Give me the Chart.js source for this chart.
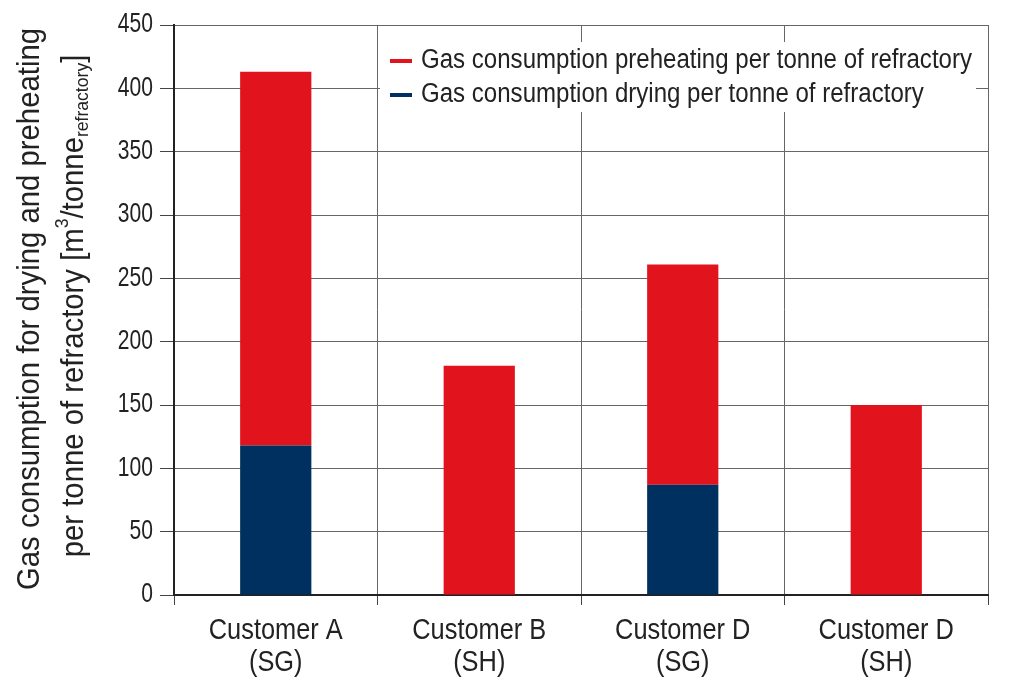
<!DOCTYPE html>
<html>
<head>
<meta charset="utf-8">
<script src="https://cdn.jsdelivr.net/npm/chart.js@4/dist/chart.umd.min.js"></script>
<style>
  html, body { margin: 0; padding: 0; background: #fff; }
  #wrap { width: 1024px; height: 688px; }
</style>
</head>
<body>
<div id="wrap"><canvas id="chart" width="1024" height="688"></canvas></div>
<script>
// categories and values
var categories = [['Customer A', '(SG)'], ['Customer B', '(SH)'], ['Customer D', '(SG)'], ['Customer D', '(SH)']];
var dryingValues = [118, 0, 87, 0];
var preheatingValues = [295, 181, 174, 150];
var yTicks = [0, 50, 100, 150, 200, 250, 300, 350, 400, 450];

var preheatLabel = 'Gas consumption preheating per tonne of refractory';
var dryingLabel = 'Gas consumption drying per tonne of refractory';
var yTitle1 = 'Gas consumption for drying and preheating';

var RED = '#e1131c';
var NAVY = '#00305f';
var FONT = "'Liberation Sans', Arial, sans-serif";
var TEXT = '#222';

// the original uses a narrow face; squeeze a normal one sideways
function narrowText(ctx, text, x, y, size, sx, align) {
    ctx.save();
    ctx.translate(x, y);
    ctx.scale(sx, 1);
    ctx.font = size + 'px ' + FONT;
    ctx.textAlign = align;
    ctx.textBaseline = 'middle';
    ctx.fillText(text, 0, 0);
    ctx.restore();
}

function squeezeFor(ctx, text, size, width) {
    ctx.font = size + 'px ' + FONT;
    return width / ctx.measureText(text).width;
}

var extras = {
    id: 'extras',
    afterDraw: function (chart) {
        var ctx = chart.ctx;
        var yScale = chart.scales.y;
        var xScale = chart.scales.x;
        ctx.save();
        ctx.fillStyle = TEXT;

        // y tick labels
        yScale.ticks.forEach(function (t) {
            narrowText(ctx, String(t.value), 153, yScale.getPixelForValue(t.value), 27, 0.78, 'right');
        });

        // x tick labels, two lines each
        var xsx = squeezeFor(ctx, 'Customer A', 30, 134);
        categories.forEach(function (lines, i) {
            var px = xScale.getPixelForValue(i);
            narrowText(ctx, lines[0], px, 631, 30, xsx, 'center');
            narrowText(ctx, lines[1], px, 663, 30, xsx, 'center');
        });

        // legend box, covers the grid
        ctx.fillStyle = '#fff';
        ctx.fillRect(380, 42, 596, 70);
        ctx.lineWidth = 4;
        ctx.strokeStyle = RED;
        ctx.beginPath(); ctx.moveTo(390, 61); ctx.lineTo(412, 61); ctx.stroke();
        ctx.strokeStyle = NAVY;
        ctx.beginPath(); ctx.moveTo(390, 95); ctx.lineTo(412, 95); ctx.stroke();
        ctx.fillStyle = TEXT;
        var lsx = squeezeFor(ctx, preheatLabel, 27, 551);
        narrowText(ctx, preheatLabel, 421, 61, 27, lsx, 'left');
        narrowText(ctx, dryingLabel, 421, 95, 27, lsx, 'left');

        // y axis title, two lines with super/subscript
        var tsize = 31;
        var tsx = squeezeFor(ctx, yTitle1, tsize, 562);
        ctx.save();
        ctx.translate(30, 309);
        ctx.rotate(-Math.PI / 2);
        narrowText(ctx, yTitle1, 0, 0, tsize, tsx, 'center');
        ctx.restore();

        var segs = [
            { t: 'per tonne of refractory [m', s: 1, dy: 0 },
            { t: '3', s: 0.6, dy: -0.36 },
            { t: '/tonne', s: 1, dy: 0 },
            { t: 'refractory', s: 0.6, dy: 0.3 },
            { t: ']', s: 1, dy: 0 }
        ];
        var total = 0;
        segs.forEach(function (g) {
            ctx.font = (tsize * g.s) + 'px ' + FONT;
            g.w = ctx.measureText(g.t).width * tsx;
            total += g.w;
        });
        ctx.save();
        ctx.translate(74, 306);
        ctx.rotate(-Math.PI / 2);
        var x = -total / 2;
        segs.forEach(function (g) {
            narrowText(ctx, g.t, x, g.dy * tsize, tsize * g.s, tsx, 'left');
            x += g.w;
        });
        ctx.restore();

        ctx.restore();
    }
};

new Chart(document.getElementById('chart'), {
    type: 'bar',
    data: {
        labels: categories,
        datasets: [
            {
                label: dryingLabel,
                data: dryingValues,
                backgroundColor: NAVY,
                borderWidth: 0
            },
            {
                label: preheatLabel,
                data: preheatingValues,
                backgroundColor: RED,
                borderWidth: 0
            }
        ]
    },
    options: {
        responsive: false,
        animation: false,
        devicePixelRatio: 1,
        layout: { padding: { top: 25, right: 36, left: 0, bottom: 0 } },
        datasets: { bar: { categoryPercentage: 1, barPercentage: 0.35 } },
        plugins: {
            legend: { display: false },
            tooltip: { enabled: false }
        },
        scales: {
            x: {
                stacked: true,
                afterFit: function (scale) { scale.height = 93; },
                grid: {
                    offset: true,
                    color: '#666',
                    lineWidth: 1,
                    tickLength: 10,
                    tickColor: '#444'
                },
                border: { color: '#222', width: 2 },
                ticks: { display: false }
            },
            y: {
                stacked: true,
                min: 0,
                max: 450,
                afterFit: function (scale) { scale.width = 174; },
                afterBuildTicks: function (scale) {
                    scale.ticks = yTicks.map(function (v) { return { value: v }; });
                },
                grid: {
                    color: '#666',
                    lineWidth: 1,
                    tickLength: 14,
                    tickColor: '#444'
                },
                border: { color: '#222', width: 2 },
                ticks: { display: false }
            }
        }
    },
    plugins: [extras]
});
</script>
</body>
</html>
